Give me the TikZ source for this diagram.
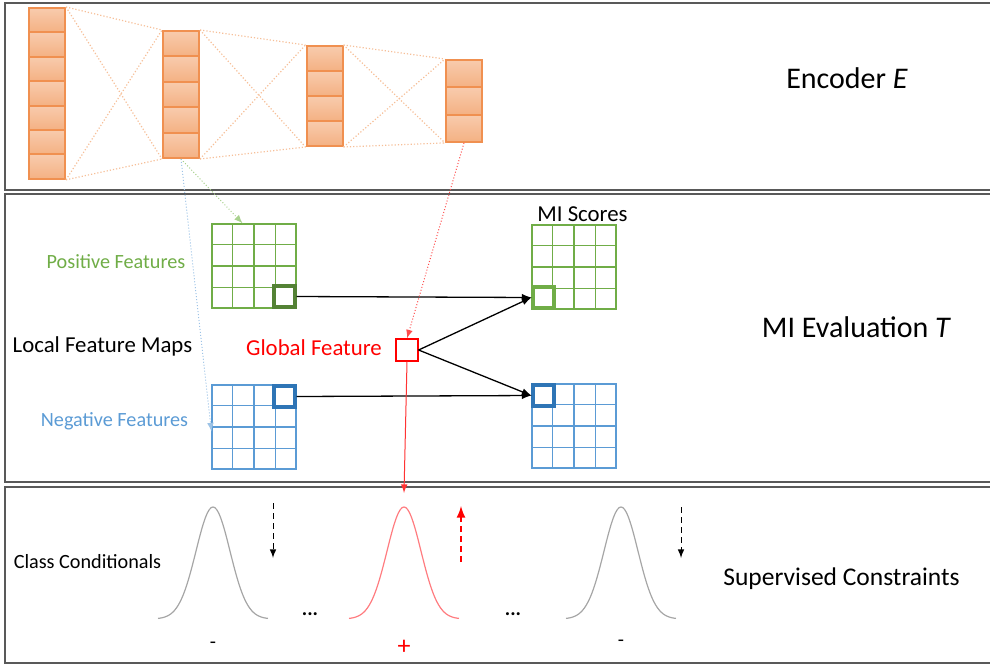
\documentclass[tikz,border=0pt]{standalone}
\usepackage{fontspec}
\setmainfont{Carlito}
\usetikzlibrary{positioning}
\usetikzlibrary{arrows}
\usetikzlibrary{calc}

\definecolor{encfill}{HTML}{F4B183}
\definecolor{enctop}{HTML}{F8CBAD}
\definecolor{encdraw}{HTML}{ED7D31}
\definecolor{encline}{HTML}{F6BF98}
\definecolor{posgreen}{HTML}{70AD47}
\definecolor{posdark}{HTML}{548235}
\definecolor{poslight}{HTML}{A9D18E}
\definecolor{negblue}{HTML}{5B9BD5}
\definecolor{negdark}{HTML}{2E75B6}
\definecolor{neglight}{HTML}{9DC3E6}
\definecolor{panelgray}{HTML}{595959}
\definecolor{curvegray}{HTML}{A6A6A6}
\definecolor{curvered}{HTML}{FF7C80}

\tikzset{
  cell/.style={draw=encdraw!85, line width=1pt, top color=enctop, bottom color=encfill,
    minimum width=18pt, inner sep=0pt},
  link/.style={encline, densely dotted, line width=0.6pt},
  fmap/.style={draw=#1, line width=0.6pt, minimum width=42pt, minimum height=42pt, inner sep=0pt},
  hicell/.style={draw=#1, line width=1.6pt, minimum width=10.5pt, minimum height=10.5pt, inner sep=0pt},
  hugetxt/.style={font=\fontsize{15}{18}\selectfont, anchor=base, inner sep=0pt},
  bigtxt/.style={font=\fontsize{12.75}{15}\selectfont, anchor=base, inner sep=0pt},
  midtxt/.style={font=\fontsize{11.4}{14}\selectfont, anchor=base, inner sep=0pt},
  smalltxt/.style={font=\fontsize{10.1}{12}\selectfont, anchor=base, inner sep=0pt},
  panel/.style={draw=panelgray, line width=0.75pt}
}

\begin{document}
\begin{tikzpicture}[x=0.5pt, y=-0.5pt]
\useasboundingbox (0,0) rectangle (990,665);
\clip (0,0) rectangle (990,665);

 % Panels
 \draw[panel] (5,3) rectangle (1000,190);
 \draw[panel] (5,194) rectangle (1000,482);
 \draw[panel] (5,487) rectangle (1000,663);

 % Encoder layers
\foreach \l/\cx/\ty/\n/\h in {1/47/8/7/24.4, 2/181/31/5/25.4, 3/324.5/46/4/25, 4/464/60/3/27.3}
  \foreach \i in {1,...,\n}
    \node[cell, minimum height=\h*0.5pt] (l\l-\i) at (\cx, {\ty+(\i-0.5)*\h}) {};

\foreach \a/\na/\b/\nb in {1/7/2/5, 2/5/3/4, 3/4/4/3} {
  \draw[link] (l\a-1.north east) -- (l\b-1.north west);
  \draw[link] (l\a-\na.south east) -- (l\b-\nb.south west);
  \draw[link] (l\a-1.north east) -- (l\b-\nb.south west);
  \draw[link] (l\a-\na.south east) -- (l\b-1.north west);
}

\node[hugetxt] (enclabel) at (847,88) {Encoder \textit{E}};

 % Feature maps
\node[fmap=posgreen] (pos) at (254,266) {};
\node[fmap=negblue] (neg) at (254,427) {};
\node[fmap=posgreen] (spos) at (574,267) {};
\node[fmap=negblue] (sneg) at (574,426) {};

\foreach \m/\col in {pos/posgreen, neg/negblue, spos/posgreen, sneg/negblue}
  \foreach \k in {1,2,3} {
    \draw[\col, line width=0.6pt] ($(\m.north west)!\k/4!(\m.north east)$) -- ($(\m.south west)!\k/4!(\m.south east)$);
    \draw[\col, line width=0.6pt] ($(\m.north west)!\k/4!(\m.south west)$) -- ($(\m.north east)!\k/4!(\m.south east)$);
  }

\node[hicell=posdark, anchor=south east] (posHi) at (pos.south east) {};
\node[hicell=negdark, anchor=north east] (negHi) at (neg.north east) {};
\node[hicell=posgreen, anchor=south west] (sposHi) at (spos.south west) {};
\node[hicell=negdark, anchor=north west] (snegHi) at (sneg.north west) {};

 % Global feature
\node [draw=red,
    line width=0.6pt,
    minimum size=11pt,
    inner sep=0pt
]  (glob) at (407,350) {};

\node[smalltxt, text=posgreen] (poslabel) at (116,268) {Positive Features};
\node[smalltxt, text=negblue] (neglabel) at (114.5,426) {Negative Features};
\node[midtxt] (locallabel) at (102.5,352) {Local Feature Maps};
\node[midtxt, text=red] (globlabel) at (314,355) {Global Feature};
\node[midtxt] (scorelabel) at (582.5,221) {MI Scores};
\node[hugetxt] (milabel) at (856.5,337) {MI Evaluation \textit{T}};

\draw[-latex, line width=0.65pt] (posHi.east) -- (sposHi.west);
\draw[-latex, line width=0.65pt] (negHi.east) -- (snegHi.west);
\draw[-latex, line width=0.65pt] (glob.east) -- (sposHi.west);
\draw[-latex, line width=0.65pt] (glob.east) -- (snegHi.west);

\draw[-latex, poslight, densely dotted, line width=0.5pt] (l2-5.south) -- (pos.105);
\draw[-latex, neglight, densely dotted, line width=0.5pt] (l2-5.south) -- (neg.186);
\draw[-latex, red!70, densely dotted, line width=0.5pt] (l4-3.south) -- (glob.north);

 % Class conditionals
\foreach \gx/\col in {213/curvegray, 404/curvered, 621/curvegray}
  \draw[\col, line width=0.6pt, domain=-55:55, samples=61, smooth]
    plot ({\gx+\x}, {619-112*exp(-0.5*(\x/17)*(\x/17))});

\coordinate (gpeak) at (404,493);
\draw[-latex, red!80, line width=0.5pt] (glob.south) -- (gpeak);

\coordinate (downA) at (273,503);
\coordinate (downAend) at (273,558);
\coordinate (upB) at (461,562);
\coordinate (upBend) at (461,506);
\coordinate (downC) at (681,507);
\coordinate (downCend) at (681,558);
\draw[-latex, densely dashed, line width=0.5pt] (downA) -- (downAend);
\draw[-latex, red, densely dashed, line width=1pt] (upB) -- (upBend);
\draw[-latex, densely dashed, line width=0.5pt] (downC) -- (downCend);

\node[smalltxt] (dotsA) at (310,615) {\textbf{...}};
\node[smalltxt] (dotsB) at (513,615) {\textbf{...}};
\node[smalltxt] (minusA) at (213,648) {-};
\node[smalltxt, font=\fontsize{13}{15}\selectfont, text=red] (plusB) at (404,654) {+};
\node[smalltxt] (minusC) at (621,646) {-};

\node[smalltxt] (classlabel) at (87.5,568) {Class Conditionals};
\node[bigtxt] (suplabel) at (841.5,585) {Supervised Constraints};
\end{tikzpicture}
\end{document}
